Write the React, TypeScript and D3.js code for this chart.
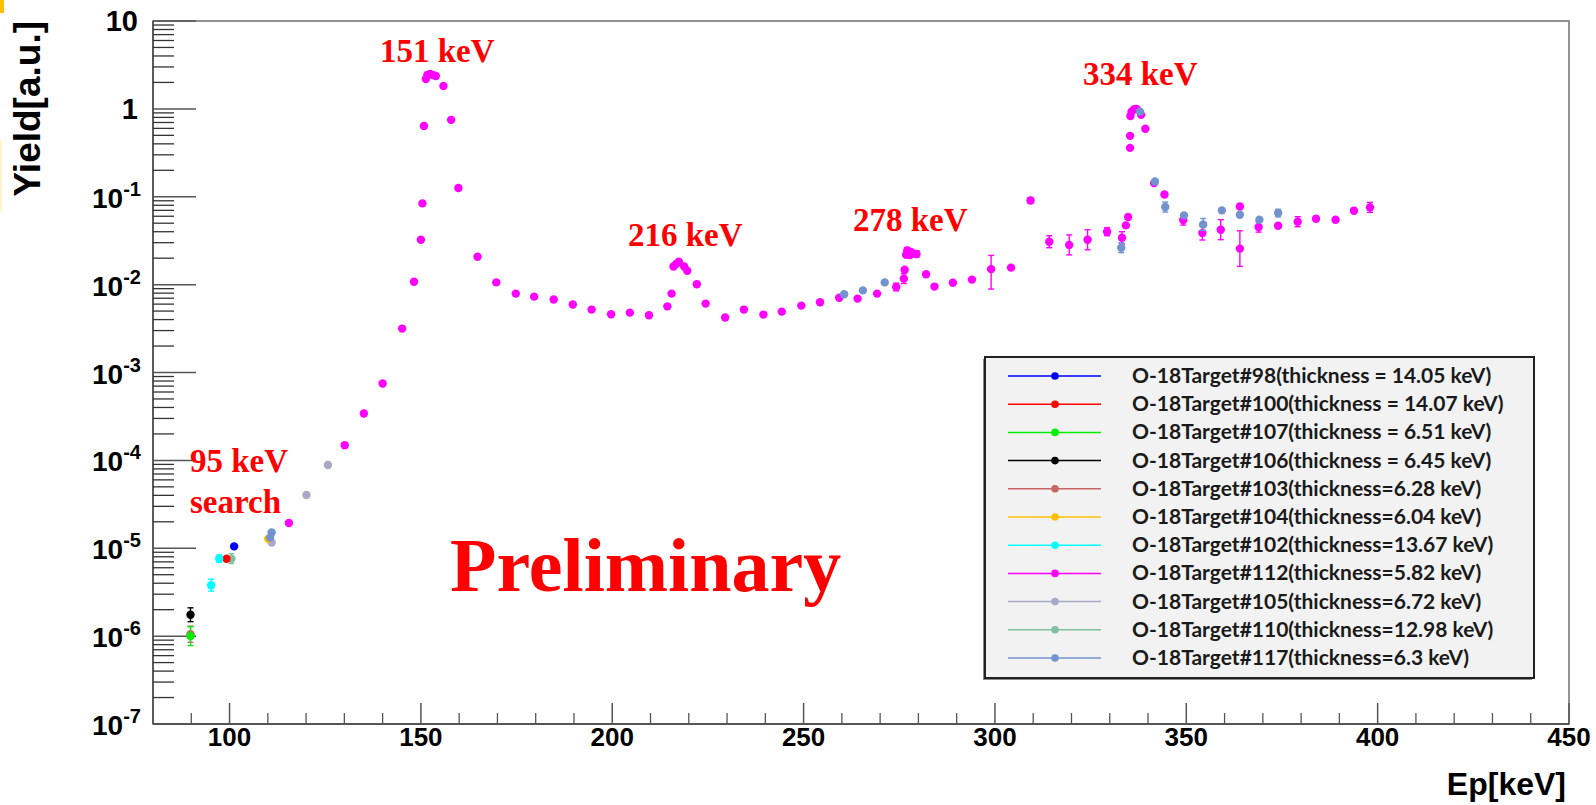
import React from "react";
import * as d3 from "d3";

// ---- data: [Ep keV, yield, errLow?, errHigh?] ----
const s98: number[][] = [[101.2, 1.05e-5]];
const s100: number[][] = [[99.2, 7.6e-6]];
const s107: number[][] = [[89.8, 1.0e-6, 7.8e-7, 1.28e-6]];
const s106: number[][] = [[89.8, 1.75e-6, 1.46e-6, 2.1e-6]];
const s103: number[][] = [[89.8, 1.05e-6, 0.85e-6, 1.3e-6]];
const s104: number[][] = [[110.1, 1.28e-5]];
const s102: number[][] = [
  [95.2, 3.8e-6, 3.25e-6, 4.45e-6],
  [97.3, 7.6e-6, 6.9e-6, 8.4e-6],
];
const s112: number[][] = [
  [115.5, 1.94e-5], [130.1, 1.49e-4], [135.1, 3.42e-4], [140.0, 7.5e-4],
  [145.1, 3.16e-3], [148.2, 0.0108], [150.0, 0.0324], [150.4, 0.084],
  [150.8, 0.64], [151.3, 2.19], [151.7, 2.43], [152.4, 2.5], [153.1, 2.43],
  [153.9, 2.37], [155.9, 1.82], [157.9, 0.75], [159.8, 0.126],
  [164.8, 0.0208], [169.7, 0.0106], [174.8, 7.9e-3], [179.6, 7.3e-3],
  [184.7, 6.76e-3], [189.7, 5.93e-3], [194.6, 5.2e-3], [199.7, 4.6e-3],
  [204.6, 4.8e-3], [209.6, 4.48e-3], [214.4, 5.66e-3], [215.5, 7.9e-3],
  [216.0, 0.0161], [216.7, 0.0172], [217.4, 0.0182], [218.8, 0.0161],
  [219.6, 0.0144], [222.1, 0.0101], [224.4, 6.08e-3], [229.5, 4.22e-3],
  [234.4, 5.2e-3], [239.5, 4.56e-3], [244.3, 4.93e-3], [249.4, 5.77e-3],
  [254.3, 6.3e-3], [259.3, 7.1e-3], [264.1, 6.93e-3], [269.2, 7.9e-3],
  [274.2, 9.4e-3, 8.5e-3, 0.0104], [276.2, 0.0117, 0.0103, 0.0133],
  [276.4, 0.0148], [276.8, 0.0219], [277.1, 0.0245, 0.0225, 0.0265],
  [277.8, 0.0217], [278.2, 0.0234], [279.5, 0.0223, 0.0205, 0.0243],
  [282.0, 0.0131], [284.2, 9.5e-3], [289.0, 0.0105], [294.0, 0.0114],
  [299.0, 0.015, 0.0089, 0.0215], [304.2, 0.0156], [309.3, 0.0908, 0.084, 0.098],
  [314.2, 0.0308, 0.0263, 0.036], [319.4, 0.0283, 0.0218, 0.0368],
  [324.2, 0.0324, 0.0249, 0.0421], [329.3, 0.04, 0.036, 0.0444],
  [333.2, 0.0342, 0.029, 0.040], [334.2, 0.0472], [334.8, 0.0588],
  [335.3, 0.36], [335.3, 0.493], [335.4, 0.83], [335.7, 0.93], [336.4, 0.99],
  [337.0, 1.0], [338.2, 0.855], [339.3, 0.593], [341.6, 0.143], [344.3, 0.106],
  [349.2, 0.0543, 0.0476, 0.062], [354.2, 0.0386, 0.0322, 0.0463],
  [359.0, 0.0422, 0.0325, 0.0549], [364.0, 0.0776], [364.0, 0.0257, 0.0161, 0.041],
  [368.9, 0.0452, 0.0396, 0.0516], [374.0, 0.0468], [379.1, 0.052, 0.0456, 0.0593],
  [383.9, 0.0562], [389.0, 0.0548], [393.8, 0.0693, 0.065, 0.074],
  [398.0, 0.0757, 0.0664, 0.0863],
];
const s105: number[][] = [[111.0, 1.16e-5], [120.1, 4.04e-5], [125.7, 8.85e-5]];
const s110: number[][] = [[100.5, 7.6e-6, 6.7e-6, 8.7e-6]];
const s117: number[][] = [
  [110.6, 1.32e-5], [111.0, 1.51e-5], [260.6, 7.76e-3], [265.5, 8.6e-3],
  [271.2, 0.0106], [333.0, 0.0263, 0.0231, 0.03], [337.9, 0.93],
  [341.8, 0.149], [344.5, 0.0764, 0.067, 0.087], [349.4, 0.0614],
  [354.4, 0.0484, 0.0414, 0.0566], [359.3, 0.07], [364.0, 0.0624],
  [369.1, 0.0548], [374.0, 0.0653, 0.059, 0.072],
];

const legendLabels = [
  "O-18Target#98(thickness = 14.05 keV)",
  "O-18Target#100(thickness = 14.07 keV)",
  "O-18Target#107(thickness = 6.51 keV)",
  "O-18Target#106(thickness = 6.45 keV)",
  "O-18Target#103(thickness=6.28 keV)",
  "O-18Target#104(thickness=6.04 keV)",
  "O-18Target#102(thickness=13.67 keV)",
  "O-18Target#112(thickness=5.82 keV)",
  "O-18Target#105(thickness=6.72 keV)",
  "O-18Target#110(thickness=12.98 keV)",
  "O-18Target#117(thickness=6.3 keV)",
];
const seriesColors = [
  "#0000ff", "#ff0000", "#00ee00", "#000000", "#c86464", "#ffc000",
  "#00ffff", "#ff00ff", "#a8a8c8", "#80c0a0", "#7393cf",
];
const seriesData = [s98, s100, s107, s106, s103, s104, s102, s112, s105, s110, s117];
// drawing order (later on top)
const drawOrder = [7, 8, 5, 9, 1, 0, 6, 4, 2, 3, 10];

const annotations: [string, number, number][] = [
  ["151 keV", 380, 62],
  ["216 keV", 628, 246],
  ["278 keV", 853, 231],
  ["334 keV", 1083, 85],
  ["95 keV", 190, 472],
  ["search", 190, 513],
];

const xMajor = [100, 150, 200, 250, 300, 350, 400, 450];
const yExponents = [-7, -6, -5, -4, -3, -2, -1, 0, 1];

const W = 1596, H = 805;
const L = 153, R = 1569, T = 21, B = 724;

export default function App() {
  const x = d3.scaleLinear().domain([80, 450]).range([L, R]);
  const y = d3.scaleLog().domain([1e-7, 10]).range([B, T]);
  const xMinor = d3.range(90, 450, 10).filter((v) => v % 50 !== 0);
  const yMinor: number[] = [];
  for (let k = -7; k <= 0; k++) for (let m = 2; m <= 9; m++) yMinor.push(m * Math.pow(10, k));
  const axisColor = "#555";
  const sans = "'Liberation Sans', Arial, sans-serif";
  const serif = "'Liberation Serif', 'Times New Roman', serif";
  const legX = 985, legY = 357, legW = 549, legH = 321;
  const rowY = (i: number) => 376 + i * 28.2;

  return (
    <svg width={W} height={H} style={{ position: "absolute", left: 0, top: 0, background: "#fff" }}>
      <rect x={0} y={0} width={W} height={H} fill="#fff" />
      <rect x={0} y={0} width={4} height={13} fill="#ffc000" />
      <rect x={0} y={140} width={2} height={72} fill="#fff2cc" />

      {/* frame */}
      <rect x={L} y={T} width={R - L} height={B - T} fill="none" stroke="#777" strokeWidth={1.6} />
      <line x1={L} x2={L} y1={T} y2={B} stroke={axisColor} strokeWidth={1.8} />
      <line x1={L} x2={R} y1={B} y2={B} stroke={axisColor} strokeWidth={1.8} />

      {/* y ticks */}
      {yExponents.map((k) => (
        <line key={"ym" + k} x1={L} x2={L + 43} y1={y(Math.pow(10, k))} y2={y(Math.pow(10, k))} stroke={axisColor} strokeWidth={1.5} />
      ))}
      {yMinor.map((v, i) => (
        <line key={"yn" + i} x1={L} x2={L + 21} y1={y(v)} y2={y(v)} stroke="#333" strokeWidth={1.3} />
      ))}
      {/* y labels */}
      {yExponents.map((k) => {
        const yy = y(Math.pow(10, k)) + 10;
        if (k === 1 || k === 0)
          return (
            <text key={"yl" + k} x={138} y={yy} textAnchor="end" fontFamily={sans} fontWeight="bold" fontSize={29} fill="#000">
              {k === 1 ? "10" : "1"}
            </text>
          );
        return (
          <text key={"yl" + k} x={141} y={yy + 1} textAnchor="end" fontFamily={sans} fontWeight="bold" fontSize={28} fill="#000">
            10
            <tspan fontSize={20} dy={-12}>{String(k)}</tspan>
          </text>
        );
      })}

      {/* x ticks */}
      {xMajor.map((v) => (
        <line key={"xm" + v} x1={x(v)} x2={x(v)} y1={B} y2={B - 21} stroke={axisColor} strokeWidth={1.5} />
      ))}
      {xMinor.map((v) => (
        <line key={"xn" + v} x1={x(v)} x2={x(v)} y1={B} y2={B - 11} stroke={axisColor} strokeWidth={1.3} />
      ))}
      {xMajor.map((v) => (
        <text key={"xl" + v} x={x(v)} y={746} textAnchor="middle" fontFamily={sans} fontWeight="bold" fontSize={26} fill="#000">
          {v}
        </text>
      ))}

      {/* axis titles */}
      <text x={1566} y={795} textAnchor="end" fontFamily={sans} fontWeight="bold" fontSize={32} fill="#000">Ep[keV]</text>
      <text transform="translate(40,21) rotate(-90)" textAnchor="end" fontFamily={sans} fontWeight="bold" fontSize={37} fill="#000">Yield[a.u.]</text>

      {/* data */}
      {drawOrder.map((si) => {
        const c = seriesColors[si];
        return (
          <g key={"s" + si}>
            {seriesData[si].map((p, j) =>
              p.length > 2 ? (
                <g key={"e" + j}>
                  <line x1={x(p[0])} x2={x(p[0])} y1={y(p[2])} y2={y(p[3])} stroke={c} strokeWidth={1.4} />
                  <line x1={x(p[0]) - 3} x2={x(p[0]) + 3} y1={y(p[2])} y2={y(p[2])} stroke={c} strokeWidth={1.4} />
                  <line x1={x(p[0]) - 3} x2={x(p[0]) + 3} y1={y(p[3])} y2={y(p[3])} stroke={c} strokeWidth={1.4} />
                </g>
              ) : null
            )}
            {seriesData[si].map((p, j) => (
              <circle key={"c" + j} cx={x(p[0])} cy={y(p[1])} r={4.2} fill={c} />
            ))}
          </g>
        );
      })}

      {/* annotations */}
      {annotations.map(([t, ax, ay]) => (
        <text key={t} x={ax} y={ay} fontFamily={serif} fontWeight="bold" fontSize={33} fill="#ff0000">{t}</text>
      ))}
      <text x={450} y={591} fontFamily={serif} fontWeight="bold" fontSize={76} fill="#ff0000">Preliminary</text>

      {/* legend */}
      <rect x={legX - 2} y={legY + 2} width={legW} height={legH} fill="#888" />
      <rect x={legX} y={legY} width={legW} height={legH} fill="#f2f2f2" stroke="#222" strokeWidth={2} />
      {legendLabels.map((lab, i) => (
        <g key={"lg" + i}>
          <line x1={1008} x2={1101} y1={rowY(i)} y2={rowY(i)} stroke={seriesColors[i]} strokeWidth={1.5} />
          <circle cx={1055} cy={rowY(i)} r={3.8} fill={seriesColors[i]} />
          <text x={1132} y={rowY(i) + 7} fontFamily="Lato, 'Open Sans', sans-serif" fontWeight="bold" fontSize={21} fill="#1a1a1a">
            {lab}
          </text>
        </g>
      ))}
    </svg>
  );
}
